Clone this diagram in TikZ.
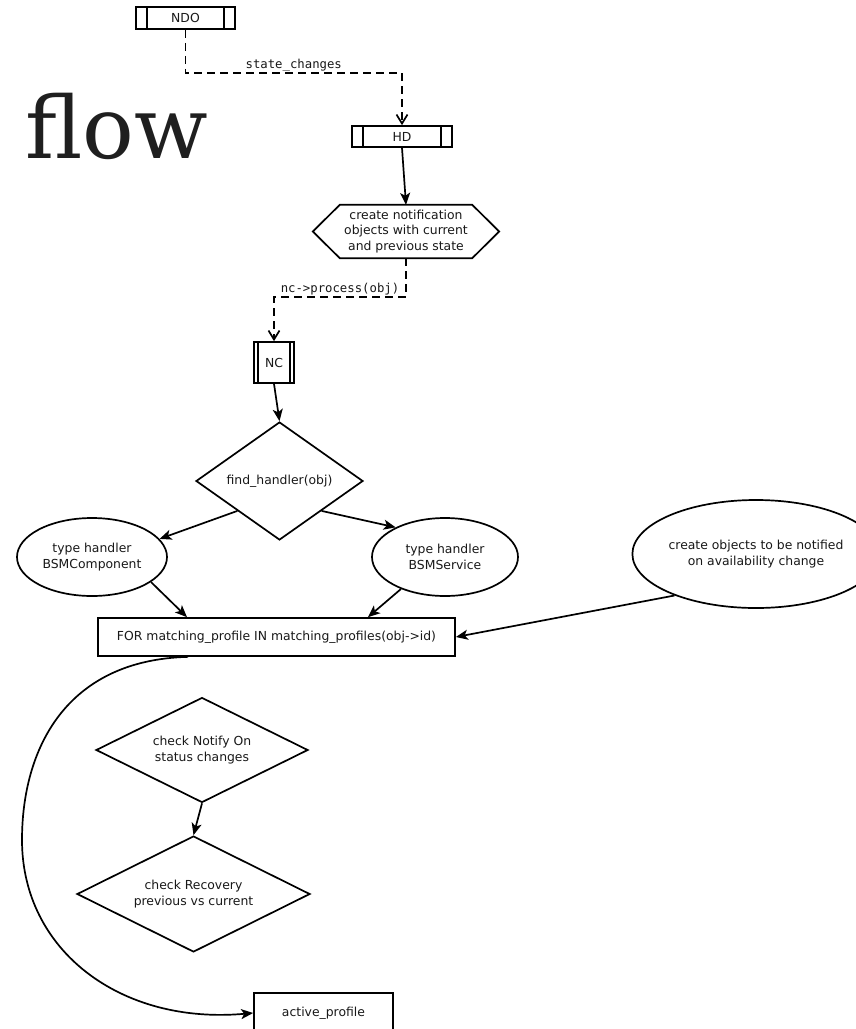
\documentclass[tikz,border=0pt]{standalone}
\usepackage{fontspec}
\usetikzlibrary{shapes.geometric,arrows.meta}
\newfontfamily\nfont{DejaVu Sans}
\newfontfamily\mfont{DejaVu Sans Mono}
\newfontfamily\ffont{DejaVu Serif}
\begin{document}
\begin{tikzpicture}[x=1pt,y=-1pt,
  every node/.style={font=\nfont\fontsize{12.4}{15.5}\selectfont, text=black!90},
  lw/.style={line width=1.7pt},
  procbox/.style={draw, lw, inner sep=0pt, path picture={
     \draw[lw] ([xshift=#1]path picture bounding box.north west) -- ([xshift=#1]path picture bounding box.south west);
     \draw[lw] ([xshift=-#1]path picture bounding box.north east) -- ([xshift=-#1]path picture bounding box.south east);}},
  procbox/.default=11pt,
  dia/.style={draw, lw, shape=diamond, inner sep=0pt, align=center},
  ell/.style={draw, lw, shape=ellipse, inner sep=0pt, align=center},
  rbox/.style={draw, lw, inner sep=0pt, align=center},
  arr/.style={lw, -{Stealth[length=12pt,width=10pt,inset=3pt]}},
  darr/.style={lw, dash pattern=on 8pt off 5pt, -{Straight Barb[length=9pt,width=11pt]}},
  lbl/.style={font=\mfont\fontsize{12.3}{14}\selectfont, inner sep=1pt}
]
\useasboundingbox (0,0) rectangle (855,1029);
\fill[white] (0,0) rectangle (855,1029);

\node[font=\ffont\fontsize{86}{92}\selectfont, anchor=base west, inner sep=0pt, text=black!88] (flow) at (25,158) {flow};

\node[procbox, minimum width=99pt, minimum height=22pt] (ndo) at (185.5,18) {NDO};
\node[procbox, minimum width=100pt, minimum height=21pt] (hd) at (402,136.5) {HD};
\node[minimum width=132pt, minimum height=53pt, inner sep=0pt, align=center] (hex) at (406,231.5) {create notification\\objects with current\\and previous state};
\draw[lw, line join=miter] ([xshift=-27pt]hex.west) -- (hex.north west) -- (hex.north east) -- ([xshift=27pt]hex.east) -- (hex.south east) -- (hex.south west) -- cycle;
\node[procbox=4pt, minimum width=40pt, minimum height=41pt] (nc) at (274,362.5) {NC};
\node[dia, aspect=1.41, minimum width=167pt, minimum height=118pt] (fh) at (279.5,481) {find\_handler(obj)};
\node[ell, minimum width=150pt, minimum height=78pt] (tl) at (92,557) {type handler\\BSMComponent};
\node[ell, minimum width=146pt, minimum height=78pt] (tr) at (445,557) {type handler\\BSMService};
\node[ell, minimum width=214pt, minimum height=108pt] (far) at (756,554) {create objects to be notified\\on availability change};
\node[rbox, minimum width=357pt, minimum height=38pt] (for) at (276.5,637) {FOR matching\_profile IN matching\_profiles(obj->id)};
\node[dia, aspect=2, minimum width=212pt, minimum height=105pt] (cn) at (202,750) {check Notify On\\status changes};
\node[dia, aspect=2, minimum width=233pt, minimum height=116pt] (cr) at (193.5,894) {check Recovery\\previous vs current};
\node[rbox, minimum width=139pt, minimum height=40pt] (act) at (323.5,1013) {active\_profile};

\coordinate (h1) at (0,73);
\coordinate (h2) at (0,297);
\coordinate (bend) at (22,840);

\draw[darr] (ndo.south) -- (ndo.south |- h1) -- node[lbl, above] (l1) {state\_changes} (hd.north |- h1) -- (hd.north);
\draw[arr] (hd.south) -- (hex.north);
\draw[darr] (hex.south) -- (hex.south |- h2) -- node[lbl, above] (l2) {nc->process(obj)} (nc.north |- h2) -- (nc.north);
\draw[arr] (nc.south) -- (fh.north);
\draw[arr] (fh.south west) -- (tl.15);
\draw[arr] (fh.south east) -- (tr.149);
\draw[arr] (tl.337) -- ([xshift=-89.5pt]for.north);
\draw[arr] (tr.216) -- ([xshift=91.5pt]for.north);
\draw[arr] (far.207) -- (for.east);
\draw[arr] (cn.south) -- (cr.north);
\draw[arr] ([xshift=-88.5pt]for.south) .. controls (65,660) and (22,750) .. (bend) .. controls (22,950) and (120,1025) .. (act.west);
\end{tikzpicture}
\end{document}
